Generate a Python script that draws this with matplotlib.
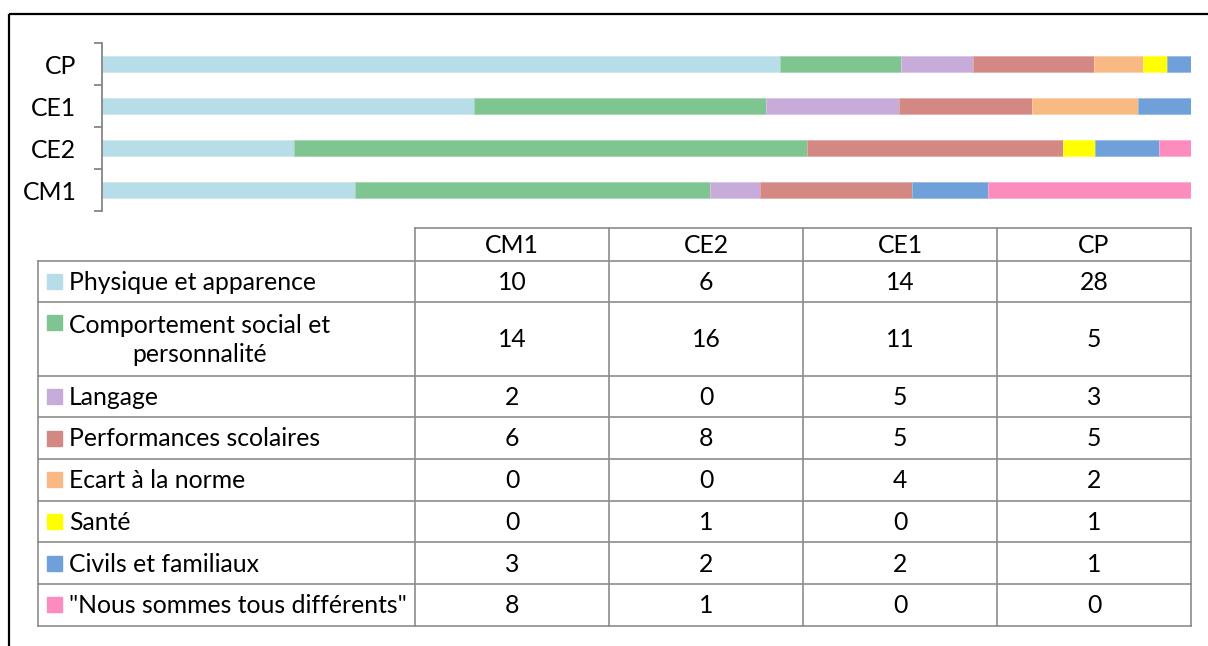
import matplotlib
matplotlib.use("Agg")
import matplotlib.pyplot as plt
from matplotlib.colors import to_rgb
import numpy as np

plt.rcParams['font.family'] = ['Lato', 'DejaVu Sans']

levels = ["CM1", "CE2", "CE1", "CP"]
categories = ["Physique et apparence", "Comportement social et\npersonnalité", "Langage",
              "Performances scolaires", "Ecart à la norme", "Santé", "Civils et familiaux",
              "\"Nous sommes tous différents\""]
physique = [10, 6, 14, 28]
comportement = [14, 16, 11, 5]
langage = [2, 0, 5, 3]
performances = [6, 8, 5, 5]
ecart = [0, 0, 4, 2]
sante = [0, 1, 0, 1]
civils = [3, 2, 2, 1]
nous = [8, 1, 0, 0]
series = [physique, comportement, langage, performances, ecart, sante, civils, nous]
colors = ["#B7DDE8", "#7EC592", "#C7ACD9", "#D48883", "#F9B982", "#FFFF00", "#6FA0D9", "#FC8BBE"]

W, H = 1208, 646
fig = plt.figure(figsize=(W / 100, H / 100), dpi=100)

def fx(px):
    return px / W

def fy(py):
    return 1 - py / H

FS = 17.8

# bar axes
ax = fig.add_axes([fx(102), fy(211), fx(1191) - fx(102), (211 - 43) / H])
data = np.array(series, dtype=float)
totals = data.sum(axis=0)
pct = data / totals
left = np.zeros(len(levels))
ypos = np.arange(len(levels))
for vals, c in zip(pct, colors):
    edge = tuple(0.7 * np.array(to_rgb(c)) + 0.3)
    ax.barh(ypos, vals, left=left, height=0.4, color=c, edgecolor=edge, linewidth=0.6)
    left += vals
ax.set_xlim(0, 1)
ax.set_ylim(-0.5, len(levels) - 0.5)
for s in ["top", "right", "bottom"]:
    ax.spines[s].set_visible(False)
ax.spines["left"].set_color("#868686")
ax.spines["left"].set_linewidth(1.3)
ax.set_xticks([])
ax.set_yticks(ypos)
ax.set_yticklabels(levels, fontsize=FS)
ax.tick_params(axis="y", which="major", length=0, pad=18.5)
ax.set_yticks(np.arange(-0.5, len(levels), 1.0), minor=True)
ax.tick_params(axis="y", which="minor", length=6, width=1.3, color="#868686")

# table / frame overlay axes
tax = fig.add_axes([0, 0, 1, 1])
tax.set_xlim(0, W)
tax.set_ylim(H, 0)
tax.axis("off")

# figure border (top & left)
tax.plot([9, W + 5], [14, 14], color="black", lw=1.6, solid_capstyle="butt")
tax.plot([9, 9], [14, H + 5], color="black", lw=1.6, solid_capstyle="butt")

gc = "#8C8C8C"
glw = 1.2
col_x = [38, 415, 609, 803, 997, 1191]
row_y = [228, 260.7, 301.7, 375.7, 417, 459, 500.7, 542, 584, 625.7]

# horizontal lines
tax.plot([col_x[1], col_x[-1]], [row_y[0], row_y[0]], color=gc, lw=glw)
for yy in row_y[1:]:
    tax.plot([col_x[0], col_x[-1]], [yy, yy], color=gc, lw=glw)
# vertical lines
tax.plot([col_x[0], col_x[0]], [row_y[1], row_y[-1]], color=gc, lw=glw)
for xx in col_x[1:]:
    tax.plot([xx, xx], [row_y[0], row_y[-1]], color=gc, lw=glw)

# header
for j, lev in enumerate(levels):
    cx = (col_x[j + 1] + col_x[j + 2]) / 2
    tax.text(cx, (row_y[0] + row_y[1]) / 2 + 1, lev, ha="center", va="center", fontsize=FS)

# rows
for i, (cat, vals, c) in enumerate(zip(categories, series, colors)):
    y0, y1 = row_y[i + 1], row_y[i + 2]
    cy = (y0 + y1) / 2
    nlines = cat.count("\n") + 1
    first_cy = cy - (nlines - 1) * 16
    tax.add_patch(plt.Rectangle((47, first_cy - 7.5), 15, 15, color=c))
    tax.text(69, cy + 1, cat, ha="left", va="center", fontsize=FS, multialignment="center",
             linespacing=1.3)
    for j, v in enumerate(vals):
        cx = (col_x[j + 1] + col_x[j + 2]) / 2
        tax.text(cx, cy + 1, str(v), ha="center", va="center", fontsize=FS)

fig.savefig("out.png", dpi=100)
